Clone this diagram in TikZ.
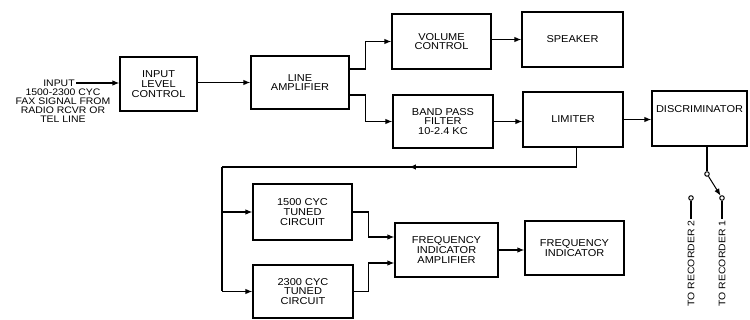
\documentclass[tikz,border=0pt]{standalone}
\usepackage{fontspec}
\setmainfont{Liberation Sans}[FakeStretch=1.1]
\usetikzlibrary{arrows.meta,decorations.markings,calc}
\begin{document}
\begin{tikzpicture}[x=1pt,y=-1pt, line width=1.2pt,
  box/.style={draw, line width=1.2pt, align=center, inner sep=1pt, font=\fontsize{10}{9.8}\selectfont},
  lbl/.style={align=center, inner sep=1pt, font=\fontsize{9.5}{9.2}\selectfont},
  arr/.style={-{Latex[length=7pt,width=5.5pt]}},
  term/.style={circle, draw, inner sep=0pt, minimum size=4.5pt, line width=1pt},
  midarrow/.style={postaction={decorate}, decoration={markings, mark=at position #1 with {\arrow{Latex[length=7pt,width=5.5pt]}}}}]
\useasboundingbox (0,0) rectangle (750,320);

% boxes
\node[box, minimum width=77pt, minimum height=54pt] (ilc) at (158.5,84) {INPUT\\LEVEL\\CONTROL};
\node[box, minimum width=98pt, minimum height=53pt] (la) at (300,82.5) {LINE\\AMPLIFIER};
\node[box, minimum width=99pt, minimum height=55pt] (vc) at (441.5,41.5) {VOLUME\\CONTROL};
\node[box, minimum width=100pt, minimum height=53pt] (bpf) at (443,121.5) {BAND PASS\\FILTER\\10-2.4 KC};
\node[box, minimum width=101pt, minimum height=55pt] (spk) at (572.5,39.5) {SPEAKER};
\node[box, minimum width=100pt, minimum height=55pt] (lim) at (573,119.5) {LIMITER};
\node[box, minimum width=95pt, minimum height=55pt] (disc) at (699.5,118.5) {DISCRIMINATOR\\[10pt]\mbox{}};
\node[box, minimum width=99pt, minimum height=56pt] (t1500) at (302.5,212) {1500 CYC\\TUNED\\CIRCUIT};
\node[box, minimum width=100pt, minimum height=53pt] (t2300) at (303,291.5) {2300 CYC\\TUNED\\CIRCUIT};
\node[box, minimum width=103pt, minimum height=54pt] (fia) at (446.5,250) {FREQUENCY\\INDICATOR\\AMPLIFIER};
\node[box, minimum width=99pt, minimum height=54pt] (fi) at (574.5,248) {FREQUENCY\\INDICATOR};

% input labels
\node[lbl] (inlbl) at (59,83) {INPUT};
\node[lbl, anchor=north] (insrc) at (63,87) {1500-2300 CYC\\FAX SIGNAL FROM\\RADIO RCVR OR\\TEL LINE};

% connectors
\draw[arr] (inlbl.east) -- (inlbl.east -| ilc.west);
\draw[arr] (ilc.east) ++(0,1.5pt) coordinate (a1) -- (a1 -| la.west);
\draw[arr] ([yshift=13.5pt]la.east) -- ++(16pt,0) |- (vc.west);
\draw[arr] ([yshift=-12.5pt]la.east) -- ++(16pt,0) |- (bpf.west);
\draw[arr] ([yshift=2pt]vc.east) -- ([yshift=2pt]vc.east -| spk.west);
\draw[arr] (bpf.east) -- (bpf.east -| lim.west);
\draw[arr] (lim.east) -- (lim.east -| disc.west);

% feedback from limiter to tuned circuits
\coordinate (fbk) at (222,167);
\draw[midarrow=0.5] ([xshift=3.5pt]lim.south) |- (fbk);
\draw (fbk) -- (fbk |- t2300.west);
\draw[arr] (fbk |- t1500.west) -- (t1500.west);
\draw[arr] (fbk |- t2300.west) -- (t2300.west);

% tuned circuits to frequency indicator amplifier
\draw[arr] (t1500.east) -- ++(16pt,0) |- ([yshift=13pt]fia.west);
\draw[arr] (t2300.east) -- ++(15pt,0) |- ([yshift=-13pt]fia.west);
\draw[arr] (fia.east) -- (fia.east -| fi.west);

% switch
\node[term] (p0) at (707,174) {};
\node[term] (p1) at (722,198) {};
\node[term] (p2) at (691,198) {};
\draw (disc.south -| p0) -- (p0.north);
\draw[arr, line width=1pt] (p0) -- (p1);
\node[lbl, rotate=90, anchor=west] (r2) at (691,308) {TO RECORDER 2};
\node[lbl, rotate=90, anchor=west] (r1) at (722,308) {TO RECORDER 1};
\draw (p2.south) -- (r2.east);
\draw (p1.south) -- (r1.east);
\end{tikzpicture}
\end{document}
